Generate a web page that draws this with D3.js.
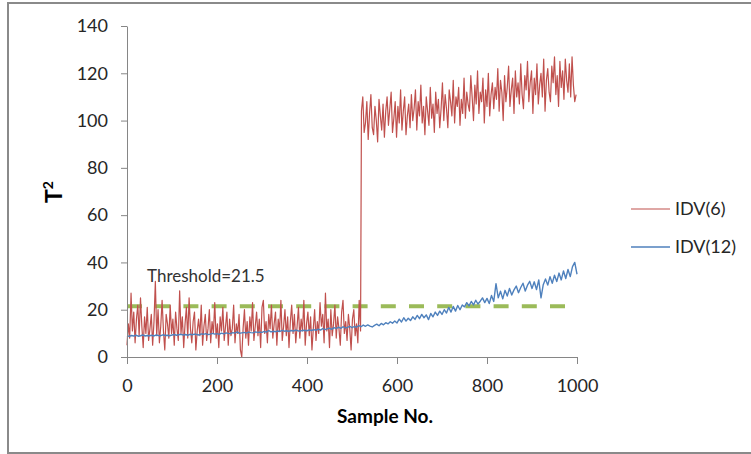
<!DOCTYPE html>
<html>
<head>
<meta charset="utf-8">
<script src="https://cdn.jsdelivr.net/npm/d3@7"></script>
<style>
  html, body { margin: 0; padding: 0; background: #fff; }
  svg { display: block; font-family: Lato, "Open Sans", sans-serif; }
</style>
</head>
<body>
<svg id="chart" width="751" height="454"></svg>
<script>
// ---------------- data ----------------
const xTicks = [0, 200, 400, 600, 800, 1000];
const yTicks = [0, 20, 40, 60, 80, 100, 120, 140];
const threshold = 21.5;
const thresholdRange = [0, 1000];

// IDV(6): samples 0..519 every 3 (before the fault)
const idv6PreStart = 0;
const idv6Pre = [
  5, 14, 8, 27, 11, 19, 6, 16, 22, 9, 25, 13, 4, 17, 10, 21, 7, 12, 18, 5,
  15, 32, 9, 20, 6, 13, 24, 11, 3, 18, 14, 8, 22, 10, 16, 5, 19, 12, 7, 28,
  10, 17, 4, 14, 21, 8, 25, 12, 6, 15, 19, 3, 11, 16, 9, 22, 5, 13, 18, 7,
  12, 20, 6, 15, 10, 23, 8, 14, 4, 17, 11, 21, 7, 13, 19, 5, 16, 9, 12, 22,
  6, 14, 10, 18, 3, 0, 12, 20, 8, 15, 5, 17, 11, 23, 7, 13, 19, 9, 16, 4,
  21, 24, 10, 15, 6, 18, 12, 22, 8, 14, 19, 5, 16, 11, 24, 7, 13, 20, 9, 17,
  4, 15, 22, 10, 18, 6, 13, 21, 8, 16, 11, 24, 5, 14, 19, 9, 17, 3, 12, 20,
  7, 15, 10, 23, 13, 18, 6, 27, 11, 16, 4, 20, 9, 14, 22, 8, 17, 12, 5, 19,
  24, 10, 15, 7, 18, 12, 3, 16, 20, 9, 14, 6, 24, 11
];
// IDV(6): samples 521..998 every 3 (after the fault)
const idv6PostStart = 521;
const idv6Post = [
  104, 110, 95, 99, 108, 92, 103, 111, 97, 94, 106, 100, 91, 109, 102, 96, 107, 93, 104, 110,
  98, 105, 112, 95, 101, 108, 93, 106, 99, 113, 96, 104, 110, 94, 102, 107, 97, 111, 100, 105,
  113, 96, 108, 102, 115, 99, 106, 94, 110, 104, 98, 114, 101, 107, 95, 112, 103, 109, 97, 105,
  116, 100, 111, 105, 97, 113, 108, 102, 117, 99, 110, 106, 114, 98, 109, 103, 118, 101, 112, 107,
  104, 119, 110, 100, 115, 107, 121, 103, 112, 108, 118, 99, 113, 106, 120, 102, 111, 116, 105, 114,
  109, 122, 104, 117, 112, 100, 119, 108, 114, 123, 106, 113, 118, 103, 121, 110, 116, 107, 124, 111,
  105, 119, 113, 125, 108, 116, 121, 103, 118, 111, 124, 107, 115, 120, 110, 126, 104, 117, 122, 112,
  108, 123, 116, 127, 111, 119, 106, 125, 114, 121, 109, 126, 117, 112, 124, 110, 127, 115, 108, 111
];
const idv6Step = 3;

// IDV(12): samples 0..1000 every 5
const idv12Step = 5;
const idv12 = [
  9.0, 8.7, 9.1, 8.9, 9.2, 8.8, 9.0, 9.3, 8.9, 9.1, 9.0, 9.2, 8.9, 9.3, 9.1, 9.0, 9.4, 9.1, 9.2, 9.0,
  9.3, 9.5, 9.2, 9.4, 9.6, 9.3, 9.5, 9.2, 9.6, 9.4, 9.7, 9.5, 9.3, 9.8, 9.6, 9.9, 9.5, 9.7, 10.0, 9.7,
  9.9, 9.6, 10.1, 9.8, 10.2, 10.0, 9.9, 10.3, 10.1, 10.6, 10.0, 10.2, 10.4, 10.1, 10.5, 10.3, 10.2, 10.6, 10.4, 10.5,
  10.4, 10.8, 10.5, 11.2, 10.6, 10.9, 10.7, 11.0, 10.8, 11.3, 10.9, 11.1, 10.8, 11.2, 11.0, 11.4, 11.1, 10.9, 11.3, 11.2,
  11.1, 11.5, 11.2, 11.6, 11.3, 11.8, 11.4, 12.0, 11.6, 11.9, 12.2, 11.7, 12.4, 12.0, 12.6, 12.1, 12.8, 12.3, 12.5, 13.0,
  12.4, 12.9, 12.6, 13.3, 12.8, 13.5, 13.0, 13.6, 13.1, 12.7, 13.4, 13.9, 13.2, 14.2, 13.6, 14.5, 14.0, 14.9, 14.3, 15.2,
  14.4, 16.0, 14.8, 16.6, 15.2, 16.4, 15.4, 17.0, 15.9, 17.6, 16.2, 18.0, 16.6, 17.8, 15.8, 18.4, 17.0, 19.0, 17.6, 19.4,
  18.0, 20.0, 18.6, 21.0, 19.0, 21.4, 19.4, 21.8, 20.0, 22.0, 21.2, 23.0, 21.6, 23.5, 22.0, 24.0, 22.4, 23.6, 25.0, 23.0,
  24.8, 22.6, 26.0, 23.5, 31.0, 25.0, 27.8, 24.6, 28.2, 25.8, 29.0, 26.2, 28.4, 30.0, 27.2, 29.4, 31.2, 27.9, 30.4, 32.0,
  29.0, 31.8, 28.5, 32.6, 25.0, 30.6, 33.0, 30.4, 34.0, 31.2, 34.6, 31.9, 35.5, 32.6, 36.4, 33.2, 37.0, 34.0, 38.2, 40.0,
  35.0
];

const seriesNames = ["IDV(6)", "IDV(12)"];
const colors = { idv6: "#C0504D", idv12: "#4F81BD", thr: "#9BBB59", axis: "#868686", text: "#262626" };

// ---------------- build points ----------------
const idv6Pts = idv6Pre.map((v, i) => [idv6PreStart + i * idv6Step, v])
  .concat(idv6Post.map((v, i) => [idv6PostStart + i * idv6Step, v]));
const idv12Pts = idv12.map((v, i) => [i * idv12Step, v]);

// ---------------- chart ----------------
const svg = d3.select("#chart");
const x = d3.scaleLinear().domain([0, 1000]).range([127, 577]);
const y = d3.scaleLinear().domain([0, 140]).range([357, 26]);

// outer border
svg.append("rect").attr("x", 8).attr("y", 3).attr("width", 760).attr("height", 450)
  .attr("fill", "none").attr("stroke", "#8a8a8a").attr("stroke-width", 2);

const line = d3.line().x(d => x(d[0])).y(d => y(d[1]));

// threshold
svg.append("path")
  .datum(thresholdRange.map(s => [s, threshold]))
  .attr("d", line).attr("fill", "none")
  .attr("stroke", colors.thr).attr("stroke-width", 4)
  .attr("stroke-dasharray", "15,13.2");

// series
svg.append("path").datum(idv6Pts).attr("d", line).attr("fill", "none")
  .attr("stroke", colors.idv6).attr("stroke-width", 1.2).attr("stroke-linejoin", "round");
svg.append("path").datum(idv12Pts).attr("d", line).attr("fill", "none")
  .attr("stroke", colors.idv12).attr("stroke-width", 1.4).attr("stroke-linejoin", "round");

// axes
const yAxis = svg.append("g").attr("transform", "translate(127,0)")
  .call(d3.axisLeft(y).tickValues(yTicks).tickSize(6).tickSizeOuter(0).tickPadding(13).tickFormat(d3.format("d")));
const xAxis = svg.append("g").attr("transform", "translate(0,357)")
  .call(d3.axisBottom(x).tickValues(xTicks).tickSize(7).tickSizeOuter(0).tickPadding(15).tickFormat(d3.format("d")));
[yAxis, xAxis].forEach(g => {
  g.selectAll("path, line").attr("stroke", colors.axis);
  g.selectAll("text").attr("fill", colors.text).style("font-size", "18px")
    .style("font-family", "Lato, 'Open Sans', sans-serif");
});

// threshold label
svg.append("text").attr("x", 147).attr("y", 282).attr("fill", "#333")
  .style("font-size", "17px").text("Threshold=" + threshold);

// axis titles
svg.append("text").attr("x", 385).attr("y", 423).attr("text-anchor", "middle")
  .attr("fill", "#000").style("font-size", "19px").style("font-weight", "bold").text("Sample No.");
const yt = svg.append("text").attr("transform", "translate(62,192) rotate(-90)")
  .attr("text-anchor", "middle").attr("fill", "#000")
  .style("font-size", "23px").style("font-weight", "bold");
yt.append("tspan").text("T");
yt.append("tspan").attr("dy", -9).style("font-size", "14px").text("2");

// legend
const legend = [
  { name: seriesNames[0], color: colors.idv6, y: 209, w: 1.2 },
  { name: seriesNames[1], color: colors.idv12, y: 247, w: 1.5 }
];
legend.forEach(l => {
  svg.append("line").attr("x1", 631).attr("x2", 670).attr("y1", l.y).attr("y2", l.y)
    .attr("stroke", l.color).attr("stroke-width", l.w);
  svg.append("text").attr("x", 675).attr("y", l.y).attr("dy", "0.35em")
    .attr("fill", colors.text).style("font-size", "18px").text(l.name);
});
</script>
</body>
</html>
